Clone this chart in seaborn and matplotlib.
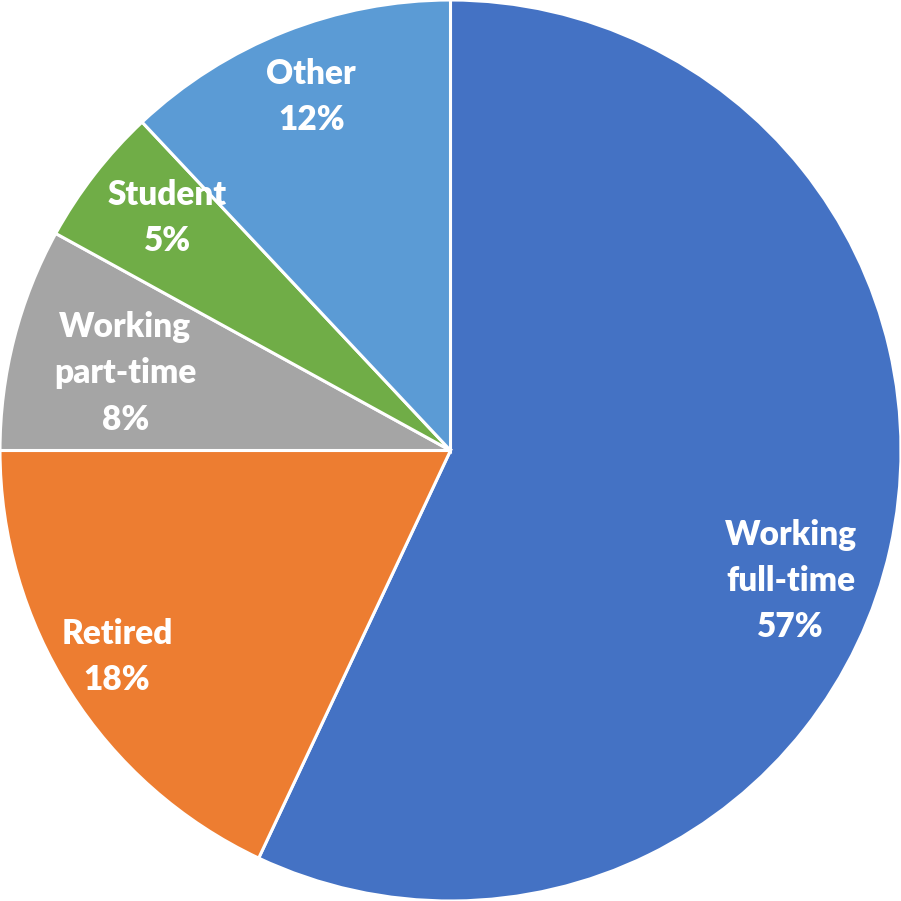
import matplotlib
matplotlib.use("Agg")
import matplotlib.pyplot as plt
import seaborn as sns
import numpy as np

sns.set_theme(style="white")
plt.rcParams['font.family'] = ['Lato', 'DejaVu Sans']

categories = ["Working\nfull-time", "Retired", "Working\npart-time", "Student", "Other"]
shares = [57, 18, 8, 5, 12]
colors = ["#4472C4", "#ED7D31", "#A5A5A5", "#70AD47", "#5B9BD5"]

# label anchor points (in units of the pie radius)
label_xy = [(0.755, -0.29), (-0.74, -0.458), (-0.722, 0.171), (-0.629, 0.516), (-0.309, 0.784)]

fig = plt.figure(figsize=(9.01, 9.01), dpi=100)
ax = fig.add_axes([0, 0, 1, 1])
ax.pie(shares, colors=colors, startangle=90, counterclock=False, radius=1.0,
       wedgeprops=dict(edgecolor="white", linewidth=2.2))

for name, val, (x, y) in zip(categories, shares, label_xy):
    ax.text(x, y, f"{name}\n{val}%", ha="center", va="center", color="white",
            fontsize=24, fontweight="heavy", linespacing=1.55)

ax.set_xlim(-1.0, 1.0)
ax.set_ylim(-1.0, 1.0)
ax.set_aspect("equal")
ax.axis("off")
fig.savefig("out.png", dpi=100, facecolor="white")
